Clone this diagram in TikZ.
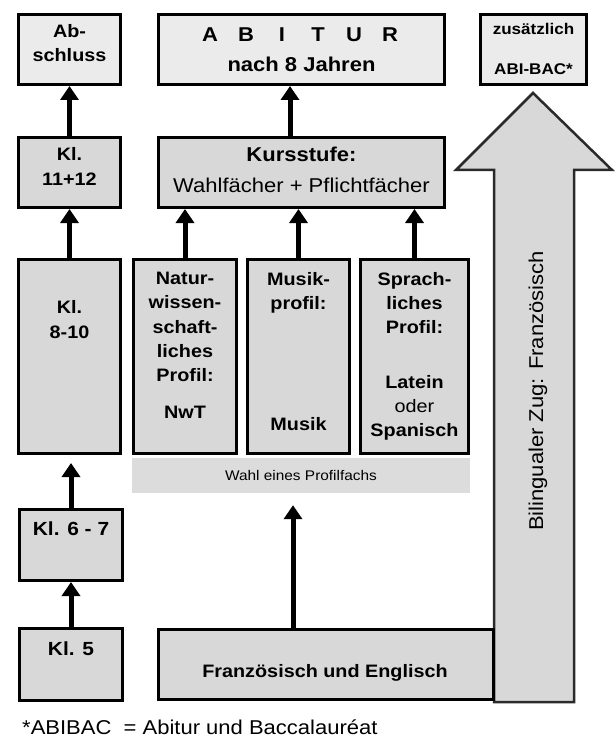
\documentclass[tikz,border=0pt]{standalone}
\usepackage{fontspec}
\setmainfont{Liberation Sans}[FakeStretch=1.1]
\usetikzlibrary{arrows.meta}
\definecolor{lightfill}{HTML}{EBEBEB}
\definecolor{midfill}{HTML}{D8D8D8}
\definecolor{bandfill}{HTML}{DCDCDC}
\definecolor{arrowedge}{HTML}{2A2A2A}
\begin{document}
\begin{tikzpicture}[x=1pt,y=-1pt,
  box/.style={draw=black, line width=3pt, inner sep=0pt, outer sep=1.5pt},
  lbox/.style={box, fill=lightfill},
  dbox/.style={box, fill=midfill},
  txt/.style={inner sep=0pt, align=center, font=\fontsize{18pt}{24.3pt}\selectfont\bfseries},
  conn/.style={line width=5pt, -{Triangle[width=18pt,length=14pt]}},
]
\useasboundingbox (0,0) rectangle (614,738);
% big arrow (bilingual track)
\draw[line width=2.5pt, draw=arrowedge, fill=midfill] (494,702) -- (574,702) -- (574,170) -- (612,170) -- (533,93) -- (456,170) -- (494,170) -- cycle;
% boxes
\node[lbox, minimum width=102pt, minimum height=70pt] (abs) at (69.5,49.5) {};
\node[lbox, minimum width=286pt, minimum height=70pt] (abi) at (301.5,49.5) {};
\node[lbox, minimum width=106pt, minimum height=70pt] (zus) at (533.5,49.5) {};
\node[dbox, minimum width=102pt, minimum height=70pt] (k1112) at (69.5,172.5) {};
\node[dbox, minimum width=286pt, minimum height=70pt] (kurs) at (301.5,172.5) {};
\node[dbox, minimum width=102pt, minimum height=194pt] (k810) at (69.5,356.5) {};
\node[dbox, minimum width=103pt, minimum height=194pt] (nat) at (185,356.5) {};
\node[dbox, minimum width=102pt, minimum height=194pt] (mus) at (298.5,356.5) {};
\node[dbox, minimum width=108pt, minimum height=194pt] (spr) at (414.5,356.5) {};
\node[fill=bandfill, inner sep=0pt, minimum width=338pt, minimum height=35pt] (wahl) at (301,475.5) {};
\node[dbox, minimum width=103pt, minimum height=71pt] (k67) at (71,545) {};
\node[dbox, minimum width=103pt, minimum height=72pt] (k5) at (71,664.5) {};
\node[dbox, minimum width=335pt, minimum height=70pt] (fe) at (326,664.5) {};
% texts
\node[txt, anchor=north] (tabs) at (69.5,24) {Ab-\\schluss};
\node[txt, anchor=base, font=\fontsize{20pt}{24pt}\selectfont\bfseries] (tabi) at (300,42)
  {\makebox[36pt]{A}\makebox[36pt]{B}\makebox[36pt]{I}\makebox[36pt]{T}\makebox[36pt]{U}\makebox[36pt]{R}};
\node[txt, anchor=base, font=\fontsize{20pt}{24pt}\selectfont\bfseries] (tnach) at (301.5,72) {nach 8 Jahren};
\node[txt, anchor=base, font=\fontsize{15.5pt}{20pt}\selectfont\bfseries] (tzus1) at (533.5,35) {zusätzlich};
\node[txt, anchor=base, font=\fontsize{15.5pt}{20pt}\selectfont\bfseries] (tzus2) at (533.5,75) {ABI-BAC*};
\node[txt, anchor=north] (tk1112) at (69.5,147) {Kl.\\[0.7pt]11+12};
\node[txt, anchor=base, font=\fontsize{20pt}{24pt}\selectfont\bfseries] (tkurs1) at (301.5,161) {Kursstufe:};
\node[txt, anchor=base, font=\fontsize{20pt}{24pt}\selectfont] (tkurs2) at (301.5,192) {Wahlfächer + Pflichtfächer};
\node[txt, anchor=north] (tk810) at (69.5,300) {Kl.\\[0.7pt]8-10};
\node[txt, anchor=north] (tnat) at (185,272) {Natur-\\wissen-\\schaft-\\liches\\Profil:};
\node[txt, anchor=base] (tnwt) at (185,418) {NwT};
\node[txt, anchor=north] (tmus) at (298.5,272) {Musik-\\profil:};
\node[txt, anchor=base] (tmusik) at (298.5,430) {Musik};
\node[txt, anchor=north] (tspr) at (414.5,272) {Sprach-\\liches\\Profil:};
\node[txt, anchor=north] (tlat) at (414.5,375) {Latein\\{\mdseries oder}\\Spanisch};
\node[txt, anchor=base, font=\fontsize{14pt}{18pt}\selectfont] (twahl) at (301,480) {Wahl eines Profilfachs};
\node[txt, anchor=base, font=\fontsize{19pt}{24pt}\selectfont\bfseries] (tk67) at (71,535) {Kl. 6 - 7};
\node[txt, anchor=base, font=\fontsize{19pt}{24pt}\selectfont\bfseries] (tk5) at (71,655) {Kl. 5};
\node[txt, anchor=base] (tfe) at (325,677) {Französisch und Englisch};
\node[txt, anchor=base, rotate=90, font=\fontsize{20pt}{24pt}\selectfont] (tbil) at (543,391) {Bilingualer Zug: Französisch};
\node[txt, anchor=base west, font=\fontsize{20pt}{24pt}\selectfont] (tfoot) at (22,734) {*ABIBAC\ \ = Abitur und Baccalauréat};
% connectors
\coordinate (akx) at (290,0);
\coordinate (fx) at (293,0);
\draw[conn] (k1112.north) -- (abs.south);
\draw[conn] (k810.north) -- (k1112.south);
\draw[conn, shorten >=8pt] (k67.north) -- (k67.north |- k810.south);
\draw[conn] (k5.north) -- (k67.south);
\draw[conn] (kurs.north -| akx) -- (abi.south -| akx);
\draw[conn] (nat.north) -- (nat.north |- kurs.south);
\draw[conn] (mus.north) -- (mus.north |- kurs.south);
\draw[conn] (spr.north) -- (spr.north |- kurs.south);
\draw[conn, shorten >=12pt] (fe.north -| fx) -- (wahl.south -| fx);
\end{tikzpicture}
\end{document}
